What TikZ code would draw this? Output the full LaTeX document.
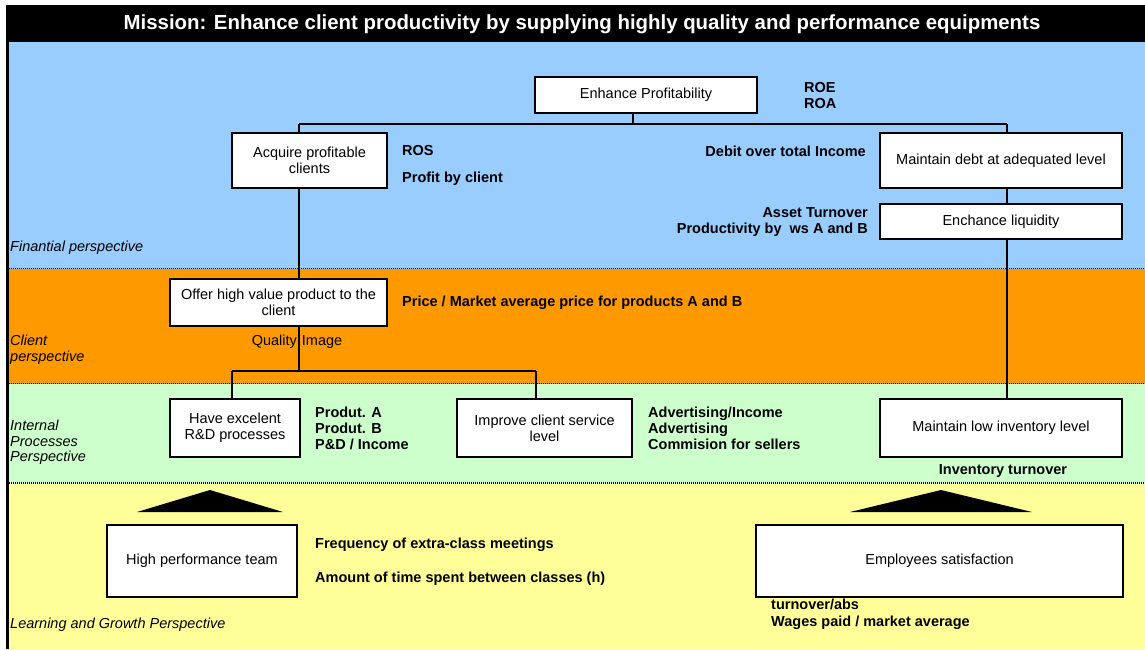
\documentclass[tikz,border=0pt]{standalone}
\usepackage{fontspec}
\setmainfont{Liberation Sans}
\usetikzlibrary{calc}
\usetikzlibrary{shadows}
\definecolor{finblue}{HTML}{99CCFF}
\definecolor{cliorange}{HTML}{FF9900}
\definecolor{intgreen}{HTML}{CCFFCC}
\definecolor{lrnyellow}{HTML}{FFFF99}
\newcommand{\band}[3] % top y, bottom y, colour (1pt = 1px)
{
	% coloured strip
	\fill[#3] (7,#1) rectangle (1145,#2);
	% dotted separator below it
	\draw[sep] (7,#2) -- (1145,#2);
}
\tikzset{
	box/.style={draw, line width=2.6pt, fill=white, align=center, inner sep=0pt,
		font=\fontsize{14.5}{16}\selectfont,
		drop shadow={shadow xshift=1pt, shadow yshift=-1pt, fill=black, opacity=1}},
	metric/.style={font=\fontsize{14.5}{16}\selectfont\bfseries, inner sep=0pt, align=left},
	persp/.style={font=\fontsize{14.5}{15.5}\selectfont\itshape, inner sep=0pt, align=left, anchor=west},
	conn/.style={line width=2pt},
	sep/.style={line width=2pt, dash pattern=on 1pt off 1pt},
}

\begin{document}
\begin{tikzpicture}[x=1pt, y=-1pt]
	% 1145 x 649 px
	\useasboundingbox (0,0) rectangle (1145,649);
	\fill[white] (0,0) rectangle (1145,649);
	
	% perspectives
	\band{42}{269}{finblue};
	\band{269}{384}{cliorange};
	\band{384}{483}{intgreen};
	\fill[lrnyellow] (7,484) rectangle (1145,649);
	
	% mission bar and left border
	\fill[black] (6,5) rectangle (1145,42);
	\draw[line width=3pt] (7.5,5) -- (7.5,649);
	\node[text=white, font=\fontsize{20.4}{22}\selectfont\bfseries] (mission) at (582,24.5)
		{Mission: Enhance client productivity by supplying highly quality and performance equipments};
	
	\node[persp] (pfin) at (10,248) {Finantial perspective};
	\node[persp] (pcli) at (10,349.5) {Client\\perspective};
	\node[persp] (pint) at (10,442.5) {Internal\\Processes\\Perspective};
	\node[persp] (plrn) at (10,625) {Learning and Growth Perspective};
	
	% objectives
	\node[box, minimum width=222, minimum height=36] (profit) at (646,95) {Enhance Profitability};
	\node[box, minimum width=155, minimum height=55] (acq) at (309.5,160.5) {Acquire profitable\\clients};
	\node[box, minimum width=242, minimum height=55] (debt) at (1001,160.5) {Maintain debt at adequated level};
	\node[box, minimum width=242, minimum height=35] (liq) at (1001,221.5) {Enchance liquidity};
	\node[box, minimum width=217, minimum height=47] (offer) at (278.5,302.5) {Offer high value product to the\\client};
	\node[box, minimum width=130, minimum height=58] (rd) at (235,428) {Have excelent\\R\&D processes};
	\node[box, minimum width=175, minimum height=58] (serv) at (544.5,428) {Improve client service\\level};
	\node[box, minimum width=242, minimum height=58] (inv) at (1001,428) {Maintain low inventory level};
	\node[box, minimum width=190, minimum height=72] (team) at (202,561) {High performance team};
	\node[box, minimum width=367, minimum height=72] (emp) at (939.5,561) {Employees satisfaction};
	
	% indicators
	\node[metric, anchor=west] (roe) at (804,96) {ROE\\ROA};
	\node[metric, anchor=west] (ros) at (402,151) {ROS};
	\node[metric, anchor=west] (pbc) at (402,179) {Profit by client};
	\node[metric, anchor=east] (dti) at (866,151) {Debit over total Income};
	\node[metric, anchor=east, align=right] (ato) at (868,222) {Asset Turnover\\Productivity by~ ws A and B};
	\node[metric, anchor=west] (price) at (402,303) {Price / Market average price for products A and B};
	\node[font=\fontsize{14.5}{16}\selectfont, inner sep=0pt] (qimg) at (297,342) {Quality\hspace{5pt}Image};
	\node[metric, anchor=west] (prod) at (315,428) {Produt. A\\Produt. B\\P\&D / Income};
	\node[metric, anchor=west] (adv) at (648,428) {Advertising/Income\\Advertising\\Commision for sellers};
	\node[metric] (ito) at (1003,471) {Inventory turnover};
	\node[metric, anchor=west] (freq) at (315,545) {Frequency of extra-class meetings};
	\node[metric, anchor=west] (hrs) at (315,579) {Amount of time spent between classes (h)};
	\node[metric, anchor=west, font=\fontsize{14.5}{17}\selectfont\bfseries] (wages) at (771,614) {turnover/abs\\Wages paid / market average};
	
	% links
	\coordinate (busM) at (633,124);
	\coordinate (busL) at (299,124);
	\coordinate (busR) at (1007,124);
	\coordinate (fork) at (299,371);
	\coordinate (forkL) at (232,371);
	\coordinate (forkR) at (536,371);
	\draw[conn] (busM) -- (busM |- profit.south);
	\draw[conn] (busL) -- (busR);
	\draw[conn] (busL) -- (busL |- acq.north);
	\draw[conn] (busL |- acq.south) -- (busL |- offer.north);
	\draw[conn] (busR) -- (busR |- debt.north);
	\draw[conn] (busR |- debt.south) -- (busR |- liq.north);
	\draw[conn] (busR |- liq.south) -- (busR |- inv.north);
	\draw[conn] (busL |- offer.south) -- (fork);
	\draw[conn] (forkL) -- (forkR);
	\draw[conn] (forkL) -- (forkL |- rd.north);
	\draw[conn] (forkR) -- (forkR |- serv.north);
	
	% supporting arrows
	\fill (137,512) -- (210,490) -- (283,512) -- cycle;
	\fill (850,512) -- (941,490) -- (1032,512) -- cycle;
\end{tikzpicture}
\end{document}
